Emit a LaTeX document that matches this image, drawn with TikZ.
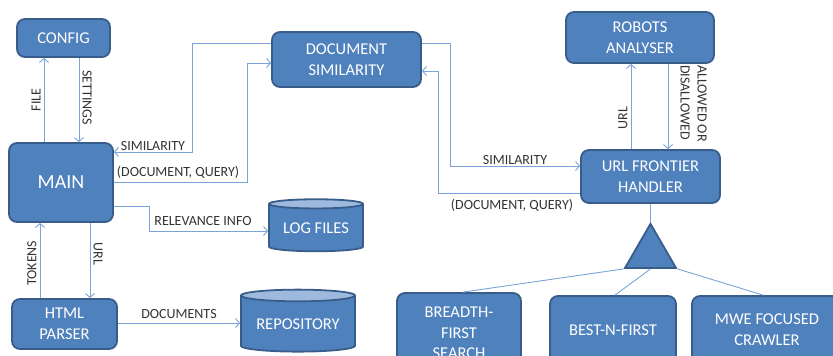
\documentclass[tikz,border=0pt]{standalone}
\usepackage{fontspec}
\setmainfont{Carlito}
\usetikzlibrary{shapes.geometric,arrows.meta}
\definecolor{boxfill}{HTML}{4F81BD}
\definecolor{boxline}{HTML}{385D8A}
\definecolor{linkcol}{HTML}{7BA3D8}
\definecolor{topfill}{HTML}{9DB9DD}
\tikzset{
  box/.style={rectangle, rounded corners=8pt, draw=boxline, line width=1.8pt, fill=boxfill,
    text=white, align=center, font=\fontsize{16.5}{20.5}\selectfont, inner sep=2pt},
  store/.style={cylinder, shape border rotate=90, draw=boxline, line width=1.8pt,
    cylinder uses custom fill, cylinder body fill=boxfill, cylinder end fill=topfill,
    text=white, font=\fontsize{16.5}{20.5}\selectfont, inner sep=0pt},
  link/.style={draw=linkcol, line width=0.9pt, -{Straight Barb[length=4pt,width=9pt]}},
  lbl/.style={font=\fontsize{14}{17}\selectfont, text=black!80, inner sep=1pt},
  vlbl/.style={lbl, inner sep=3pt, anchor=south},
}
\begin{document}
\begin{tikzpicture}[x=1pt, y=-1pt]
  \clip (0,0) rectangle (833,356);
  \node[box, minimum width=93pt, minimum height=38pt] (config) at (63.5,38) {CONFIG};
  \node[box, minimum width=104pt, minimum height=79pt, font=\fontsize{20}{22}\selectfont] (main) at (61,182.5) {MAIN};
  \node[box, minimum width=105pt, minimum height=50pt] (html) at (64.5,324) {HTML\\PARSER};
  \node[box, minimum width=149pt, minimum height=55pt] (docsim) at (346.5,59.5) {DOCUMENT\\SIMILARITY};
  \node[box, minimum width=148pt, minimum height=51pt] (robots) at (640,37.5) {ROBOTS\\ANALYSER};
  \node[box, minimum width=139pt, minimum height=53pt] (frontier) at (650.5,176.5) {URL FRONTIER\\HANDLER};
  \node[store, minimum width=94pt, minimum height=52pt, aspect=0.14] (logfiles) at (316,228) {LOG FILES};
  \node[store, minimum width=114pt, minimum height=62pt, aspect=0.14] (repo) at (298,324) {REPOSITORY};
  \node[regular polygon, regular polygon sides=3, draw=boxline, line width=1.8pt, fill=boxfill,
    minimum size=59pt, inner sep=0pt] (tri) at (650.5,253.3) {};
  \node[box, minimum width=124pt, minimum height=80pt] (bfs) at (459,333) {BREADTH-\\FIRST\\SEARCH};
  \node[box, minimum width=126pt, minimum height=68pt] (bnf) at (613,330) {BEST-N-FIRST};
  \node[box, minimum width=150pt, minimum height=67pt] (mwe) at (767,329.5) {MWE FOCUSED\\CRAWLER};

  \draw[link] (main.north -| 44,0) -- node[vlbl, rotate=90, xshift=-4pt, pos=0.55] (lfile) {FILE} (config.south -| 44,0);
  \draw[link] (config.south -| 79,0) -- node[vlbl, rotate=-90, xshift=2pt, pos=0.45] (lset) {SETTINGS} (main.north -| 79,0);
  \draw[link] (html.north -| 40,0) -- node[vlbl, rotate=90, xshift=1pt, pos=0.45] (ltok) {TOKENS} (main.south -| 40,0);
  \draw[link] (main.south -| 90,0) -- node[vlbl, rotate=-90, xshift=1pt, pos=0.4] (lurl) {URL} (html.north -| 90,0);
  \draw[link] (html.east |- 0,323) -- node[lbl, above=3pt] (ldocs) {DOCUMENTS} (repo.west |- 0,323);
  \draw[link] (docsim.west |- 0,43) -| (192,152) -- node[lbl, above] (lsim) {SIMILARITY} (main.east |- 0,152);
  \draw[link] (main.east |- 0,182) -| (247,63) -- (docsim.west |- 0,63);
  \node[lbl] (ldq) at (178,172) {(DOCUMENT, QUERY)};
  \draw[link] (main.east |- 0,206) -| (149,231) -- (logfiles.west |- 0,231);
  \node[lbl] (lrel) at (203,221) {RELEVANCE INFO};
  \draw[link] (docsim.east |- 0,43) -| (450,166) -- node[lbl, above] (lsim2) {SIMILARITY} (frontier.west |- 0,166);
  \draw[link] (frontier.west |- 0,193) -| (438,71) -- (docsim.east |- 0,71);
  \node[lbl] (ldq2) at (512,205) {(DOCUMENT, QUERY)};
  \draw[link] (frontier.north -| 631,0) -- node[vlbl, rotate=90, xshift=-3pt, pos=0.4] (lurl2) {URL} (robots.south -| 631,0);
  \draw[link] (robots.south -| 668,0) -- (frontier.north -| 668,0);
  \node[lbl, rotate=-90, align=left, anchor=north west] (lallow) at (708,64) {ALLOWED OR\\DISALLOWED};

  \draw[linkcol, line width=0.9pt] (frontier.south) -- (tri.corner 1);
  \draw[linkcol, line width=0.9pt] (tri.corner 2) -- (bfs.north -| 463,0);
  \draw[linkcol, line width=0.9pt] (tri.side 2) -- (bnf.north -| 615,0);
  \draw[linkcol, line width=0.9pt] (tri.corner 3) -- (mwe.north -| 763,0);
\end{tikzpicture}
\end{document}
